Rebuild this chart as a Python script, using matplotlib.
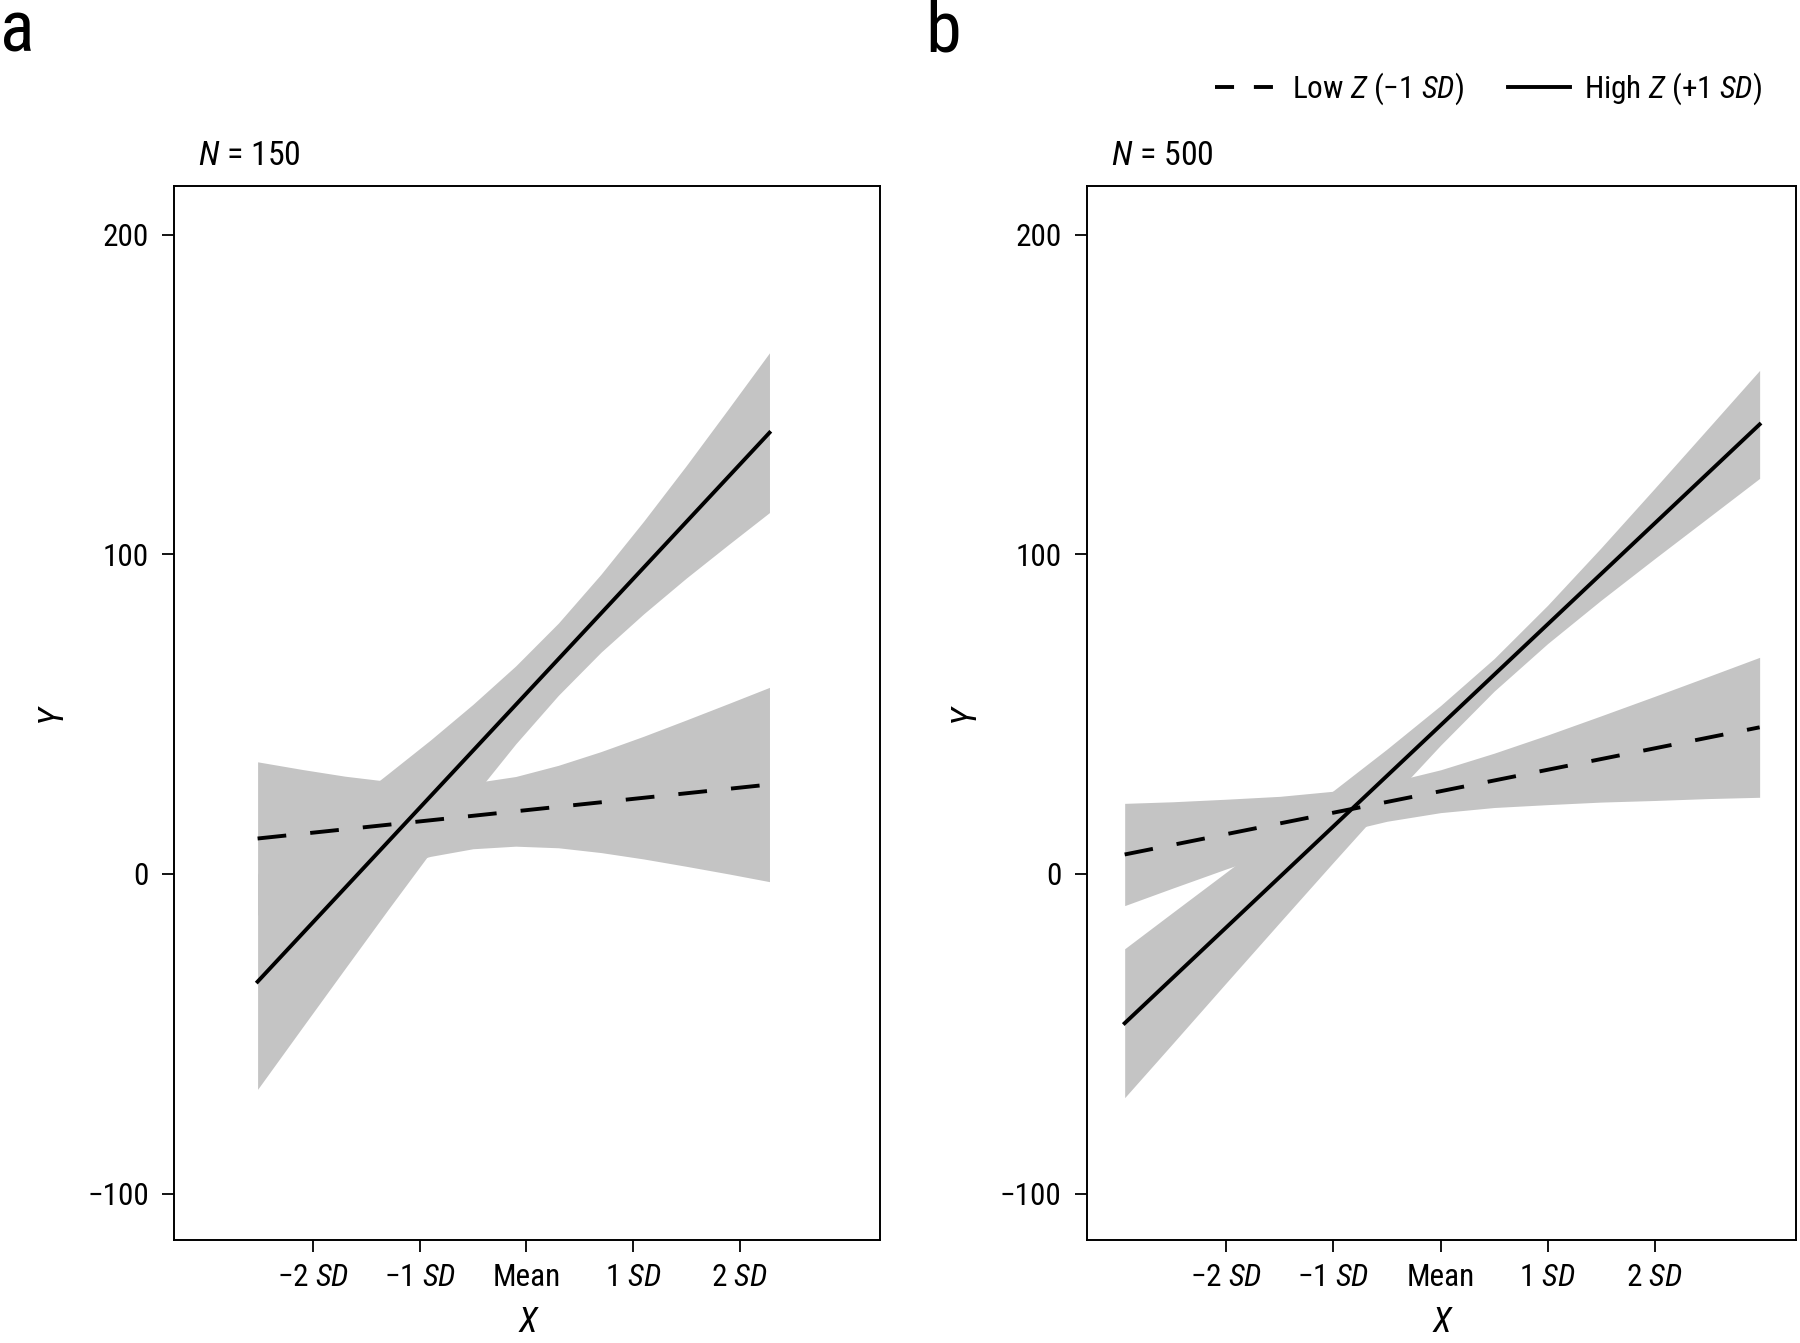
import matplotlib
matplotlib.use("Agg")
import matplotlib.pyplot as plt
from matplotlib.lines import Line2D

FONT = "Roboto Condensed"
plt.rcParams["font.family"] = [FONT, "DejaVu Sans"]
plt.rcParams["mathtext.fontset"] = "custom"
plt.rcParams["mathtext.rm"] = FONT
plt.rcParams["mathtext.it"] = FONT + ":italic"

BAND = "#c4c4c4"
LW = 2.8
DASH = (7.4, 6.2)

X_TICKS = [-2, -1, 0, 1, 2]
X_TICK_LABELS = ["−2 $\\mathit{SD}$", "−1 $\\mathit{SD}$", "Mean",
                 "1 $\\mathit{SD}$", "2 $\\mathit{SD}$"]
Y_TICKS = [-100, 0, 100, 200]
Y_TICK_LABELS = ["−100", "0", "100", "200"]

# panel a: N = 150
A_X = [-2.52, -2.1, -1.7, -1.3, -0.9, -0.5, -0.1, 0.3, 0.7, 1.1, 1.5, 1.9, 2.28]
A_HIGH_LO = [-67.4, -48.0, -29.6, -11.3, 6.7, 24.1, 40.7, 55.9, 69.4, 81.4, 92.6, 103.2, 113.1]
A_HIGH_UP = [0.0, 10.6, 20.8, 31.3, 41.9, 53.1, 65.1, 78.5, 93.8, 110.4, 127.8, 145.8, 163.1]
A_LOW_LO = [-12.9, -7.5, -2.6, 1.8, 5.5, 7.9, 8.7, 8.2, 6.7, 4.7, 2.4, 0.0, -2.4]
A_LOW_UP = [35.1, 32.7, 30.6, 29.0, 28.1, 28.5, 30.5, 34.0, 38.3, 43.1, 48.2, 53.4, 58.4]
A_LINE_X = [-2.52, 2.28]
A_HIGH_LINE = [-33.7, 138.1]
A_LOW_LINE = [11.1, 28.0]

# panel b: N = 500
B_X = [-2.95, -2.5, -2.0, -1.5, -1.0, -0.5, 0.0, 0.5, 1.0, 1.5, 2.0, 2.5, 2.98]
B_HIGH_LO = [-70.0, -53.0, -34.0, -15.1, 3.7, 22.3, 40.3, 57.2, 72.1, 85.7, 98.7, 111.5, 123.8]
B_HIGH_UP = [-23.4, -12.0, 0.6, 13.3, 26.1, 39.1, 52.7, 67.4, 84.1, 102.1, 120.7, 139.5, 157.6]
B_LOW_LO = [-9.9, -4.4, 1.6, 7.3, 12.5, 16.5, 19.2, 20.8, 21.7, 22.5, 23.0, 23.6, 24.0]
B_LOW_UP = [22.1, 22.6, 23.4, 24.3, 25.9, 28.5, 32.6, 37.8, 43.5, 49.5, 55.6, 61.8, 67.8]
B_LINE_X = [-2.95, 2.98]
B_HIGH_LINE = [-46.7, 140.7]
B_LOW_LINE = [6.1, 45.9]


def draw_panel(ax, x, high_lo, high_up, low_lo, low_up, line_x, high_line, low_line, n_text):
    ax.fill_between(x, low_lo, low_up, color=BAND, linewidth=0, zorder=1)
    ax.fill_between(x, high_lo, high_up, color=BAND, linewidth=0, zorder=1)
    ax.plot(line_x, low_line, color="black", lw=LW, dashes=DASH, zorder=3)
    ax.plot(line_x, high_line, color="black", lw=LW, zorder=3)

    ax.set_xlim(-3.3, 3.32)
    ax.set_ylim(-114.5, 215.3)
    ax.set_xticks(X_TICKS)
    ax.set_xticklabels(X_TICK_LABELS)
    ax.set_yticks(Y_TICKS)
    ax.set_yticklabels(Y_TICK_LABELS)
    ax.tick_params(axis="both", length=8.4, width=1.3, labelsize=22.5, direction="out")
    ax.tick_params(axis="x", pad=8)
    ax.tick_params(axis="y", pad=10)
    for sp in ax.spines.values():
        sp.set_linewidth(1.4)

    ax.set_xlabel("X", fontstyle="italic", fontsize=25, labelpad=10)
    ax.set_ylabel("Y", fontstyle="italic", fontsize=25, labelpad=14)
    ax.text(0.033, 1.028, "$\\mathit{N}$ = " + n_text, transform=ax.transAxes,
            ha="left", va="center", fontsize=24.5)


fig = plt.figure(figsize=(18, 13.43), dpi=100)
ax_a = fig.add_axes([0.0969, 0.0768, 0.3922, 0.7847])
ax_b = fig.add_axes([0.604, 0.0768, 0.3938, 0.7847])

draw_panel(ax_a, A_X, A_HIGH_LO, A_HIGH_UP, A_LOW_LO, A_LOW_UP,
           A_LINE_X, A_HIGH_LINE, A_LOW_LINE, "150")
draw_panel(ax_b, B_X, B_HIGH_LO, B_HIGH_UP, B_LOW_LO, B_LOW_UP,
           B_LINE_X, B_HIGH_LINE, B_LOW_LINE, "500")

fig.text(0.0, 1 - 52 / 1343, "a", fontsize=52, va="baseline", ha="left")
fig.text(0.514, 1 - 52 / 1343, "b", fontsize=52, va="baseline", ha="left")

handles = [
    Line2D([], [], color="black", lw=LW, dashes=(4.9, 5.1)),
    Line2D([], [], color="black", lw=LW),
]
labels = ["Low $\\mathit{Z}$ (−1 $\\mathit{SD}$)", "High $\\mathit{Z}$ (+1 $\\mathit{SD}$)"]
fig.legend(handles, labels, loc="center right", bbox_to_anchor=(0.979, 0.934),
           ncol=2, frameon=False, fontsize=22.5, handlelength=2.0,
           handletextpad=0.45, columnspacing=1.4, borderpad=0, borderaxespad=0)

fig.savefig("out.png", dpi=100)
